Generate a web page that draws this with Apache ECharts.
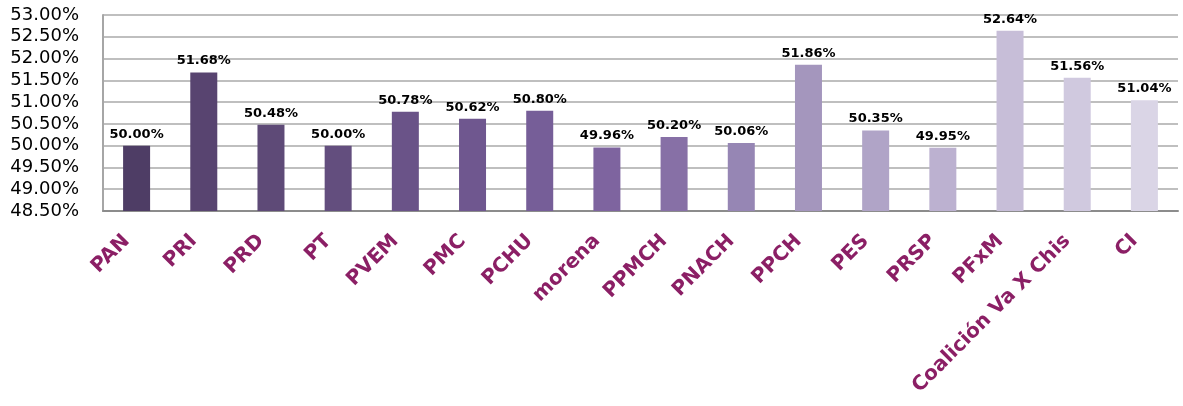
<!DOCTYPE html>
<html>
<head>
<meta charset="utf-8">
<script src="https://cdn.jsdelivr.net/npm/echarts@6/dist/echarts.min.js"></script>
<style>
  html, body { margin: 0; padding: 0; background: #fff; }
  #chart { width: 1183px; height: 406px; }
</style>
</head>
<body>
<div id="chart"></div>
<script>
// parties / coalitions
const categories = ["PAN", "PRI", "PRD", "PT", "PVEM", "PMC", "PCHU", "morena", "PPMCH",
  "PNACH", "PPCH", "PES", "PRSP", "PFxM", "Coalición Va X Chis", "CI"];
// percentage per category
const values = [50.00, 51.68, 50.48, 50.00, 50.78, 50.62, 50.80, 49.96, 50.20,
  50.06, 51.86, 50.35, 49.95, 52.64, 51.56, 51.04];
// dark to light purple
const barColors = ["#4e3d65", "#584470", "#5e4a77", "#634e7e", "#6a5388", "#6f578f",
  "#765e98", "#7e649f", "#8770a6", "#9686b4", "#a496bd", "#b0a4c7", "#bcb1d0",
  "#c7bed8", "#d0c9df", "#dad5e6"];

const chart = echarts.init(document.getElementById("chart"));

chart.setOption({
  animation: false,
  grid: { left: 103, right: 5, top: 15, bottom: 195, containLabel: false },
  xAxis: {
    type: "category",
    data: categories,
    axisLine: { lineStyle: { color: "#8c8c8c", width: 2 } },
    axisTick: { show: false },
    axisLabel: {
      interval: 0,
      rotate: 45,
      margin: 17,
      padding: [0, 14, 0, 0],
      color: "#8b1f65",
      fontFamily: "DejaVu Sans",
      fontWeight: "bold",
      fontSize: 20,
    },
  },
  yAxis: {
    type: "value",
    min: 48.5,
    max: 53,
    interval: 0.5,
    axisLine: { show: true, lineStyle: { color: "#a6a6a6", width: 2 } },
    axisTick: { show: false },
    splitLine: { lineStyle: { color: "#bfbfbf", width: 2 } },
    axisLabel: {
      margin: 24,
      color: "#000",
      fontFamily: "DejaVu Sans",
      fontSize: 18,
      formatter: (v) => v.toFixed(2) + "%",
    },
  },
  series: [
    {
      type: "bar",
      barWidth: 27,
      data: values.map((v, i) => ({ value: v, itemStyle: { color: barColors[i] } })),
      label: {
        show: true,
        position: "top",
        distance: 5,
        color: "#000",
        fontFamily: "DejaVu Sans",
        fontWeight: "bold",
        fontSize: 13,
        formatter: (p) => p.value.toFixed(2) + "%",
      },
    },
  ],
});
</script>
</body>
</html>
